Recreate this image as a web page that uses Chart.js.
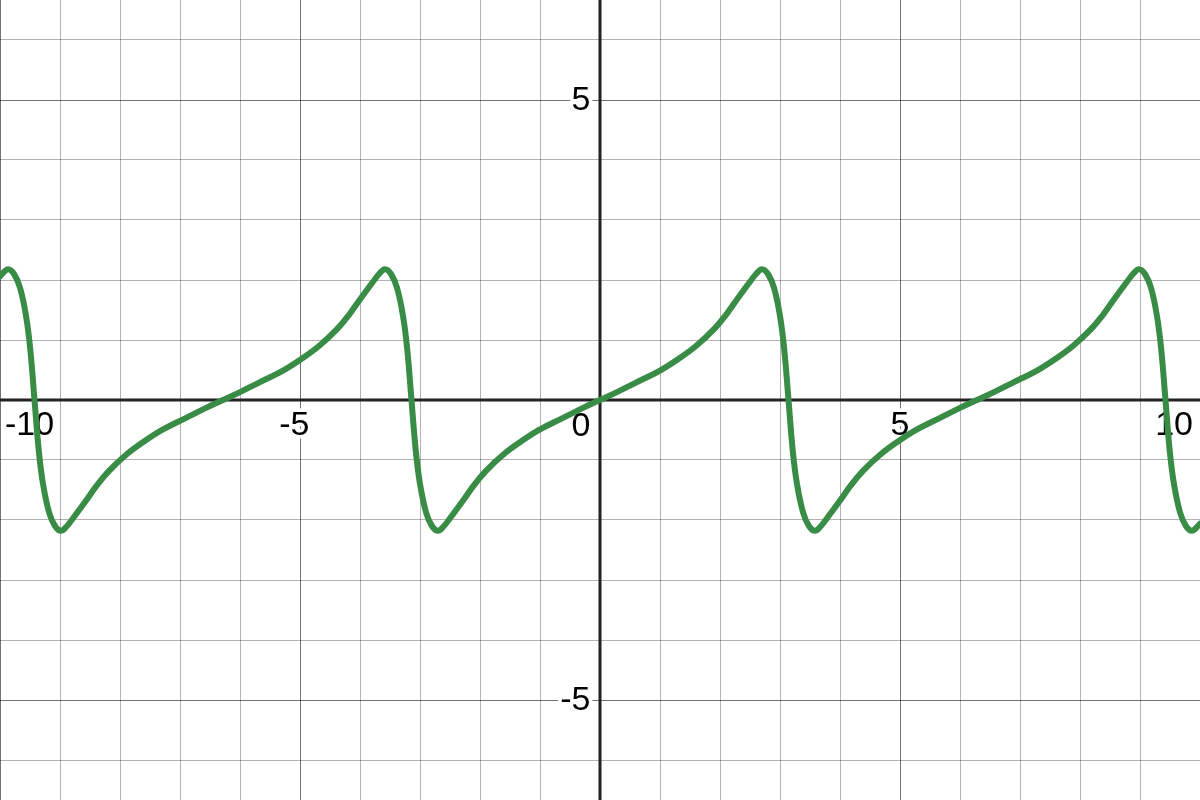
<!DOCTYPE html>
<html>
<head>
<meta charset="utf-8">
<title>Periodic curve</title>
<script src="https://cdn.jsdelivr.net/npm/chart.js@4.4.1/dist/chart.umd.min.js"></script>
<style>
    html, body { margin: 0; padding: 0; background: #fff; overflow: hidden; }
    #wrap { width: 1200px; height: 800px; position: relative; }
</style>
</head>
<body>
<div id="wrap"><canvas id="graph"></canvas></div>
<script>
// Curve samples (x, y)
const curveX = [
    -10, -9.966, -9.866, -9.766, -9.666, -9.566, -9.496,
    -9.425, -9.353, -9.283, -9.183, -9.083, -8.983, -8.883, -8.783, -8.583, -8.383, -8.183, -7.883, -7.583, -7.283, -6.883, -6.583,
    -6.283, -5.983, -5.683, -5.283, -4.983, -4.683, -4.383, -4.183, -3.983, -3.783, -3.683, -3.583, -3.483, -3.383, -3.283, -3.213,
    -3.142, -3.07, -3.0, -2.9, -2.8, -2.7, -2.6, -2.5, -2.3, -2.1, -1.9, -1.6, -1.3, -1.0, -0.6, -0.3,
    0, 0.3, 0.6, 1.0, 1.3, 1.6, 1.9, 2.1, 2.3, 2.5, 2.6, 2.7, 2.8, 2.9, 3.0, 3.07,
    3.142, 3.213, 3.283, 3.383, 3.483, 3.583, 3.683, 3.783, 3.983, 4.183, 4.383, 4.683, 4.983, 5.283, 5.683, 5.983,
    6.283, 6.583, 6.883, 7.283, 7.583, 7.883, 8.183, 8.383, 8.583, 8.783, 8.883, 8.983, 9.083, 9.183, 9.283, 9.353,
    9.425, 9.496, 9.566, 9.666, 9.766, 9.866, 9.966, 10
];
const curveY = [
    2.06, 2.10, 2.18, 2.10, 1.87, 1.40, 0.85,
    0, -0.85, -1.40, -1.87, -2.10, -2.18, -2.10, -1.97, -1.70, -1.42, -1.18, -0.90, -0.68, -0.49, -0.29, -0.14,
    0, 0.14, 0.29, 0.49, 0.68, 0.90, 1.18, 1.42, 1.70, 1.97, 2.10, 2.18, 2.10, 1.87, 1.40, 0.85,
    0, -0.85, -1.40, -1.87, -2.10, -2.18, -2.10, -1.97, -1.70, -1.42, -1.18, -0.90, -0.68, -0.49, -0.29, -0.14,
    0, 0.14, 0.29, 0.49, 0.68, 0.90, 1.18, 1.42, 1.70, 1.97, 2.10, 2.18, 2.10, 1.87, 1.40, 0.85,
    0, -0.85, -1.40, -1.87, -2.10, -2.18, -2.10, -1.97, -1.70, -1.42, -1.18, -0.90, -0.68, -0.49, -0.29, -0.14,
    0, 0.14, 0.29, 0.49, 0.68, 0.90, 1.18, 1.42, 1.70, 1.97, 2.10, 2.18, 2.10, 1.87, 1.40, 0.85,
    0, -0.85, -1.40, -1.87, -2.10, -2.18, -2.10, -2.06
];

// Grid lines and tick labels
const xGrid = [-10, -9, -8, -7, -6, -5, -4, -3, -2, -1, 0, 1, 2, 3, 4, 5, 6, 7, 8, 9, 10];
const yGrid = [-6, -5, -4, -3, -2, -1, 0, 1, 2, 3, 4, 5, 6];
const xTickLabels = [-10, -5, 5, 10];
const yTickLabels = [-5, 5];

const LABEL_FONT = '34px "Liberation Sans", Arial, sans-serif';

// Draw axes and numbers under the curve, the way the graphing tool does
const axesPlugin = {
    id: 'axesAndLabels',
    beforeDatasetsDraw(chart) {
        const ctx = chart.ctx;
        const xs = chart.scales.x;
        const ys = chart.scales.y;
        const area = chart.chartArea;
        const x0 = xs.getPixelForValue(0);
        const y0 = ys.getPixelForValue(0);

        ctx.save();
        ctx.strokeStyle = '#222';
        ctx.lineWidth = 3;
        ctx.beginPath();
        ctx.moveTo(area.left, y0);
        ctx.lineTo(area.right, y0);
        ctx.moveTo(x0, area.top);
        ctx.lineTo(x0, area.bottom);
        ctx.stroke();

        ctx.font = LABEL_FONT;
        ctx.lineJoin = 'round';
        ctx.textBaseline = 'alphabetic';

        const drawLabel = (text, x, y, align) => {
            ctx.textAlign = align;
            ctx.strokeStyle = '#fff';
            ctx.lineWidth = 7;
            ctx.strokeText(text, x, y);
            ctx.fillStyle = '#000';
            ctx.fillText(text, x, y);
        };

        // x axis numbers: digits centred on the tick, minus hanging left
        const minusW = ctx.measureText('-').width;
        xTickLabels.forEach(v => {
            const px = xs.getPixelForValue(v);
            const digits = String(Math.abs(v));
            const dw = ctx.measureText(digits).width;
            let left = px - dw / 2 - (v < 0 ? minusW : 0);
            let right = px + dw / 2;
            if (left < 5) { right += 5 - left; left = 5; }
            if (right > area.right - 7) { left -= right - (area.right - 7); }
            drawLabel(String(v), left, y0 + 35, 'left');
        });

        // origin and y axis numbers, right aligned next to the axis
        drawLabel('0', x0 - 9.5, y0 + 36, 'right');
        yTickLabels.forEach(v => {
            const py = ys.getPixelForValue(v);
            drawLabel(String(v), x0 - 9.5, py + 9.5, 'right');
        });
        ctx.restore();
    }
};

const gridColor = (ctx) => ctx.tick && ctx.tick.value % 5 === 0 ? 'rgba(0,0,0,0.55)' : 'rgba(0,0,0,0.3)';

function buildChart() {
    const ctx = document.getElementById('graph').getContext('2d');
    const points = curveX.map((x, i) => ({ x: x, y: curveY[i] }));

    new Chart(ctx, {
        type: 'line',
        data: {
            datasets: [{
                data: points,
                borderColor: '#388c46',
                borderWidth: 6,
                pointRadius: 0,
                fill: false,
                tension: 0.4,
                borderCapStyle: 'round',
                borderJoinStyle: 'round'
            }]
        },
        options: {
            responsive: true,
            maintainAspectRatio: false,
            animation: false,
            events: [],
            layout: { padding: 0 },
            plugins: {
                legend: { display: false },
                tooltip: { enabled: false }
            },
            scales: {
                x: {
                    type: 'linear',
                    min: -10,
                    max: 10,
                    afterBuildTicks: scale => { scale.ticks = xGrid.map(v => ({ value: v })); },
                    grid: { color: gridColor, lineWidth: 1, drawTicks: false, tickLength: 0 },
                    border: { display: false },
                    ticks: { display: false }
                },
                y: {
                    type: 'linear',
                    min: -20 / 3,
                    max: 20 / 3,
                    afterBuildTicks: scale => { scale.ticks = yGrid.map(v => ({ value: v })); },
                    grid: { color: gridColor, lineWidth: 1, drawTicks: false, tickLength: 0 },
                    border: { display: false },
                    ticks: { display: false }
                }
            }
        },
        plugins: [axesPlugin]
    });
}

buildChart();
</script>
</body>
</html>
